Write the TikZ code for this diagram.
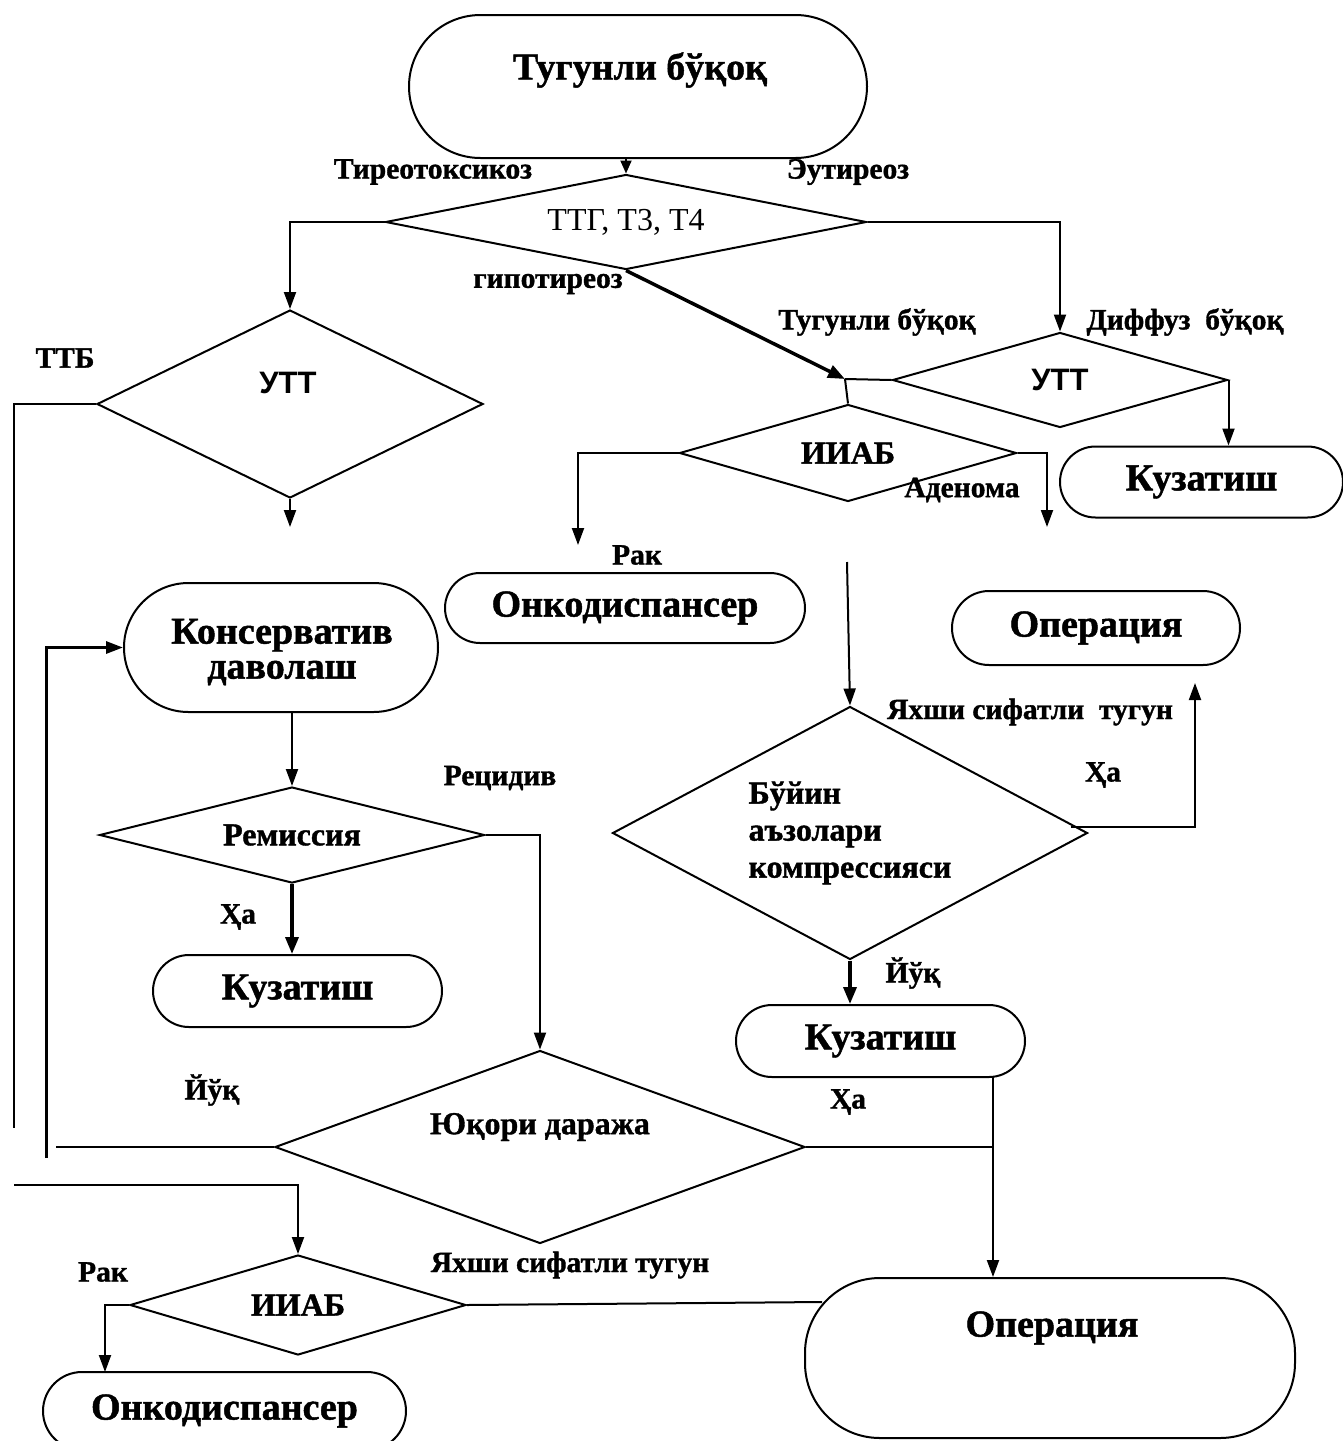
\documentclass[tikz,border=0pt]{standalone}
\usepackage{fontspec}
\setmainfont{Liberation Serif}[BoldFeatures={FakeBold=1.2}]
\newfontfamily\sansb{Liberation Sans}
\usetikzlibrary{shapes.geometric,shapes.misc,arrows.meta}
\begin{document}
\begin{tikzpicture}[x=1pt,y=-1pt,
  every node/.style={inner sep=0pt},
  ln/.style={line width=2pt},
  thk/.style={line width=3.5pt},
  arr/.style={ln,-{Triangle[length=17pt,width=12pt]}},
  sarr/.style={ln,-{Triangle[length=13pt,width=11pt]}},
  tarr/.style={thk,-{Triangle[length=17pt,width=13pt]}},
  stad/.style={draw, line width=2pt, rounded rectangle},
  dia/.style={draw, line width=2pt, diamond},
  bt/.style={font=\fontsize{38}{40}\selectfont\bfseries},
  dt/.style={font=\fontsize{32}{37}\selectfont\bfseries},
  st/.style={font=\fontsize{31}{33}\sansb\bfseries},
  lb/.style={font=\fontsize{29.5}{32}\selectfont\bfseries},
]
\useasboundingbox (0,0) rectangle (1343,1441);
\clip (0,0) rectangle (1343,1441);
% shapes
\node[stad, minimum width=458pt, minimum height=143pt] (title) at (638,86.5) {};
\node[bt] (titlet) at (640,70) {Тугунли бўқоқ};
\node[dia, shape aspect=5, minimum width=481pt, minimum height=95pt, font=\fontsize{32}{37}\selectfont] (d1) at (626,222) {ТТГ, Т3, Т4};
\node[dia, minimum width=386pt, minimum height=188pt] (utt1) at (290,404) {};
\node[st] (utt1t) at (288,383) {УТТ};
\node[dia, shape aspect=3.5, minimum width=335pt, minimum height=95pt, st] (utt2) at (1060,380) {УТТ};
\node[dia, shape aspect=3.5, minimum width=337pt, minimum height=97pt, dt] (iiab1) at (848,453) {ИИАБ};
\node[stad, minimum width=283pt, minimum height=71pt, bt] (kuz1) at (1201.5,482) {Кузатиш};
\node[stad, minimum width=360pt, minimum height=70pt, bt] (onko1) at (625,608) {Онкодиспансер};
\node[stad, minimum width=288pt, minimum height=74pt, bt] (op1) at (1096,628) {Операция};
\node[stad, minimum width=314pt, minimum height=129pt] (kons) at (281,647.5) {};
\node[align=center, font=\fontsize{38}{35}\selectfont\bfseries] (konst) at (282,652) {Консерватив\\даволаш};
\node[dia, shape aspect=4, minimum width=385pt, minimum height=96pt, dt] (rem) at (292,835) {Ремиссия};
\node[dia, shape aspect=1.88, minimum width=475pt, minimum height=253pt, dt, align=left] (bu) at (850,833) {Бўйин\\аъзолари\\компрессияси};
\node[stad, minimum width=289pt, minimum height=72pt, bt] (kuzL) at (297.5,991) {Кузатиш};
\node[stad, minimum width=289pt, minimum height=72pt, bt] (kuz2) at (880.5,1041) {Кузатиш};
\node[dia, minimum width=530pt, minimum height=193pt] (yuq) at (540,1147) {};
\node[dt] (yuqt) at (540,1127) {Юқори даража};
\node[dia, shape aspect=3.4, minimum width=336pt, minimum height=100pt, dt] (iiab2) at (298,1305) {ИИАБ};
\node[stad, minimum width=363pt, minimum height=78pt, bt] (onko2) at (224.5,1411) {Онкодиспансер};
\node[draw, line width=2pt, rounded corners=75pt, minimum width=490pt, minimum height=160pt] (op2) at (1050,1358) {};
\node[bt] (op2t) at (1052,1328) {Операция};
% coordinates
\coordinate (J) at (845,379);
\coordinate (cA) at (578,545);
\coordinate (cB) at (1047,527);
\coordinate (cC) at (847,562);
\coordinate (cD) at (1195,683);
\coordinate (xop) at (993,1077);
\coordinate (cF) at (290,527);
\coordinate (cG) at (14,1128);
\coordinate (cH) at (46,1158);
\coordinate (cI) at (56,1150);
\coordinate (cJ) at (14,1185);
\coordinate (cK) at (105,1372);
\coordinate (cL) at (822,1302);
% connectors
\draw[sarr] (d1.north |- title.south) -- (d1.north);
\draw[arr] (d1.west) -| (utt1.north);
\draw[arr] (d1.east) -| (utt2.north);
\draw[tarr] (d1.south) -- (J);
\draw[ln] (J) -- (utt2.west);
\draw[ln] (J) -- (iiab1.north);
\draw[arr] (utt2.east) -- (utt2.east |- kuz1.north);
\draw[arr] (iiab1.west) -| (cA);
\draw[arr] (iiab1.east) -| (cB);
\draw[arr] (cC) -- (bu.north);
\draw[arr] ([shift={(-18,-6)}]bu.east) -| (cD);
\draw[tarr] (bu.south) -- (bu.south |- kuz2.north);
\draw[arr] (xop) -- (xop |- op2.north);
\draw[ln] (yuq.east) -- (yuq.east -| xop);
\draw[arr] (rem.north |- kons.south) -- (rem.north);
\draw[tarr] (rem.south) -- (rem.south |- kuzL.north);
\draw[arr] (rem.east) -| (yuq.north);
\draw[arr] (utt1.south) -- (cF);
\draw[ln] (utt1.west) -| (cG);
\draw[arr, line width=3pt] (cH) |- (kons.west);
\draw[ln] (yuq.west) -- (cI |- yuq.west);
\draw[arr] (cJ) -| (iiab2.north);
\draw[arr] (iiab2.west) -| (cK);
\draw[ln] (iiab2.east) -- (cL);
% labels
\node[lb] (l1) at (433,172) {Тиреотоксикоз};
\node[lb] (l2) at (848,172) {Эутиреоз};
\node[lb] (l3) at (548,284) {гипотиреоз};
\node[lb] (l4) at (65,358) {ТТБ};
\node[lb] (l5) at (877,322) {Тугунли бўқоқ};
\node[lb] (l6) at (1185,322) {Диффуз\ \ бўқоқ};
\node[lb] (l7) at (962,490) {Аденома};
\node[lb] (l8) at (637,555) {Рак};
\node[lb] (l9) at (1030,712) {Яхши сифатли\ \ тугун};
\node[lb] (l10) at (1103,775) {Ҳа};
\node[lb] (l11) at (913,973) {Йўқ};
\node[lb] (l12) at (500,778) {Рецидив};
\node[lb] (l13) at (238,917) {Ҳа};
\node[lb] (l14) at (212,1090) {Йўқ};
\node[lb] (l15) at (848,1102) {Ҳа};
\node[lb] (l16) at (103,1272) {Рак};
\node[lb] (l17) at (570,1265) {Яхши сифатли тугун};
\end{tikzpicture}
\end{document}
